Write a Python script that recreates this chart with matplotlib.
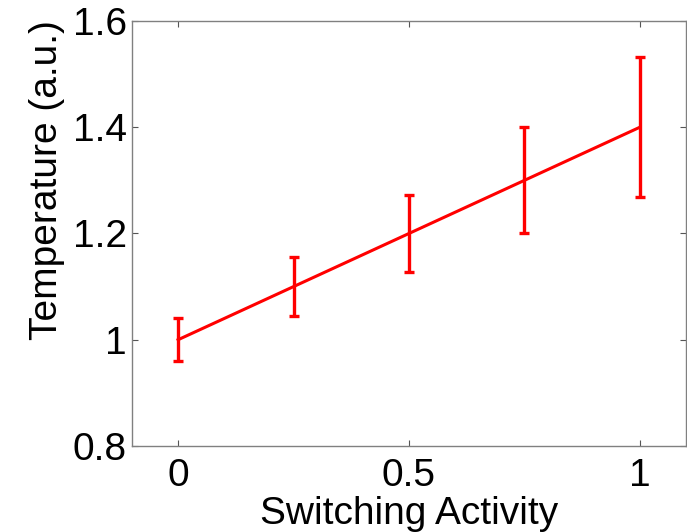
import numpy as np
import matplotlib
matplotlib.use("Agg")
import matplotlib.pyplot as plt

# datos
actividad = [0, 0.25, 0.5, 0.75, 1.0]
temperatura = [1.0, 1.1, 1.2, 1.3, 1.4]
error = [0.04, 0.055, 0.073, 0.1, 0.132]

xticks = [0, 0.5, 1]
xtick_labels = ["0", "0.5", "1"]
yticks = [0.8, 1.0, 1.2, 1.4, 1.6]
ytick_labels = ["0.8", "1", "1.2", "1.4", "1.6"]

plt.rcParams['font.family'] = ['Liberation Sans', 'DejaVu Sans']

fig = plt.figure(figsize=(6.87, 5.32), dpi=100)
ax = fig.add_axes([0.192, 0.1617, 0.8065, 0.7988])

ax.errorbar(actividad, temperatura, yerr=error, color='#ff0000', lw=2.2,
            elinewidth=2.4, capsize=3.6, capthick=2.4)

ax.set_xlim(-0.1, 1.1)
ax.set_ylim(0.8, 1.6)
ax.set_xticks(xticks)
ax.set_xticklabels(xtick_labels)
ax.set_yticks(yticks)
ax.set_yticklabels(ytick_labels)
ax.tick_params(direction='in', length=4, width=0.8, color='#555555',
               top=True, right=True, labelsize=28)
ax.tick_params(axis='y', pad=3.5)
ax.tick_params(axis='x', pad=9)
for s in ax.spines.values():
    s.set_color('#808080')
    s.set_linewidth(1.0)

ax.set_xlabel("Switching Activity", fontsize=28)
ax.set_ylabel("Temperature (a.u.)", fontsize=28)
# posiciones de las etiquetas como en la figura original
ax.xaxis.set_label_coords(0.5, -0.118)
ax.yaxis.set_label_coords(-0.121, 0.625)

fig.savefig("out.png", dpi=100)
